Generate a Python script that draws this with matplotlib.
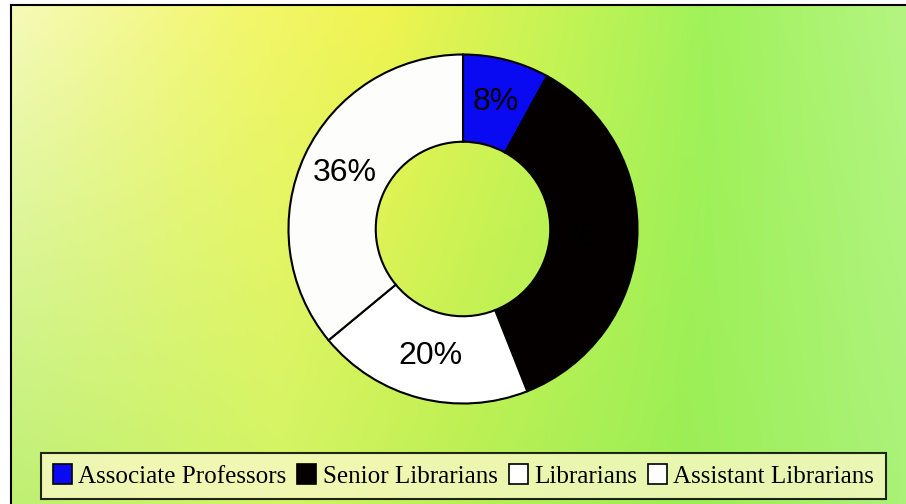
import numpy as np
import matplotlib
matplotlib.use("Agg")
import matplotlib.pyplot as plt
from matplotlib.patches import Patch

categories = ["Associate Professors", "Senior Librarians", "Librarians", "Assistant Librarians"]
shares = [8, 36, 20, 36]
slice_colors = ["#0a0af2", "#050000", "#ffffff", "#fdfdfb"]

fig = plt.figure(figsize=(9.06, 5.04), dpi=100)
fig.patch.set_facecolor("white")

# ── background panel with yellow/green gradient ──
bg = fig.add_axes([11/906, 0, 1 - 11/906, 1 - 5/504])
xs = np.linspace(0, 1, 300)
top_stops = [(0.0, (246, 250, 185)), (0.25, (243, 247, 110)), (0.42, (240, 244, 80)),
             (0.6, (200, 244, 85)), (0.78, (160, 242, 90)), (1.0, (180, 245, 130))]
bot_stops = [(0.0, (190, 240, 115)), (0.3, (210, 244, 100)), (0.5, (185, 240, 85)),
             (0.75, (155, 238, 85)), (1.0, (170, 242, 120))]

def row(stops):
    px = [p for p, _ in stops]
    return np.stack([np.interp(xs, px, [c[k] for _, c in stops]) for k in range(3)], axis=-1)

top, bot = row(top_stops), row(bot_stops)
t = np.linspace(0, 1, 200)[:, None, None]
img = (top[None] * (1 - t) + bot[None] * t) / 255.0
bg.imshow(img, aspect="auto", extent=[0, 1, 0, 1], interpolation="bilinear")
bg.set_xticks([]); bg.set_yticks([])
for s in ["right", "bottom"]:
    bg.spines[s].set_visible(False)
for s in ["left", "top"]:
    bg.spines[s].set_linewidth(1.5)

# ── donut ──
ax = fig.add_axes([(463 - 178)/906, (504 - 407)/504, 356/906, 356/504])
ax.set_facecolor("none")
wedges, texts, autotexts = ax.pie(
    shares, colors=slice_colors, startangle=90, counterclock=False, radius=1,
    autopct="%1.0f%%", pctdistance=0.75,
    wedgeprops=dict(width=0.5, edgecolor="black", linewidth=1.5),
    textprops=dict(fontsize=23, family="Liberation Sans", color="black"))
ax.set_xlim(-1.02, 1.02); ax.set_ylim(-1.02, 1.02)
ax.set_aspect("equal")

# ── legend ──
handles = [Patch(facecolor=c, edgecolor="black", linewidth=1.2) for c in slice_colors]
leg = fig.legend(handles, categories, loc="center", bbox_to_anchor=(0.5116, 0.0556),
                 ncol=4, fancybox=False, edgecolor="black", facecolor="#f6f8c0",
                 framealpha=0.85, handlelength=0.75, handleheight=0.8,
                 handletextpad=0.25, columnspacing=0.45, borderpad=0.45,
                 prop=dict(family="Liberation Serif", size=18.1))
leg.get_frame().set_linewidth(1.5)

fig.savefig("out.png", dpi=100)
